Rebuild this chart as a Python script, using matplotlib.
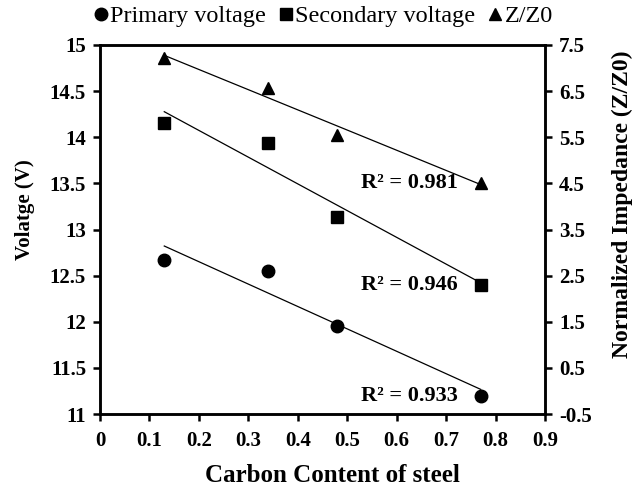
import numpy as np
import matplotlib

matplotlib.use("Agg")

import matplotlib.pyplot as plt
from matplotlib.lines import Line2D

plt.rcParams["font.family"] = ["Liberation Serif", "DejaVu Serif"]

carbon = [0.13, 0.34, 0.48, 0.77]
primary_voltage = [12.67, 12.55, 11.95, 11.2]
secondary_voltage = [14.15, 13.94, 13.14, 12.4]
impedance_ratio = [7.22, 6.57, 5.55, 4.51]

r2_labels = ["R² = 0.981", "R² = 0.946", "R² = 0.933"]
r2_label_y = [13.50, 12.40, 11.20]

fig = plt.figure(figsize=(6.44, 4.91), dpi=100)
ax = fig.add_axes([100 / 644, 1 - 414 / 491, 445 / 644, 369 / 491])
ax2 = ax.twinx()

ms = 9


def trend(axis, x, y):
    k, b = np.polyfit(x, y, 1)
    xs = np.array([min(x), max(x)])
    axis.plot(xs, k * xs + b, color="black", lw=0.9, zorder=2)


ax.plot(carbon, primary_voltage, "o", color="black", ms=ms, zorder=3)
ax.plot(carbon, secondary_voltage, "s", color="black", ms=ms, zorder=3)
trend(ax, carbon, primary_voltage)
trend(ax, carbon, secondary_voltage)

ax2.plot(carbon, impedance_ratio, "^", color="black", ms=ms, zorder=3)
trend(ax2, carbon, impedance_ratio)

xt = np.arange(0, 0.91, 0.1).round(1)
yt = np.arange(11, 15.01, 0.5)
yt2 = np.arange(-0.5, 7.51, 1)
ax.set_xlim(0, 0.9)
ax.set_ylim(11, 15)
ax2.set_ylim(-0.5, 7.5)
ax.set_xticks(xt)
ax.set_xticklabels([f"{v:g}" for v in xt])
ax.set_yticks(yt)
ax.set_yticklabels([f"{v:g}" for v in yt])
ax2.set_yticks(yt2)
ax2.set_yticklabels([f"{v:g}" for v in yt2])

for a in (ax, ax2):
    for s in a.spines.values():
        s.set_linewidth(1.8)
    a.tick_params(width=1.8, length=5, labelsize=15, pad=5)
    for lab in a.get_xticklabels() + a.get_yticklabels():
        lab.set_fontweight("bold")
ax.tick_params(axis="x", pad=7)

ax.set_xlabel("Carbon Content of steel", fontsize=18, fontweight="bold")
ax.set_ylabel("Volatge (V)", fontsize=15, fontweight="bold")
ax2.set_ylabel("Normalized Impedance (Z/Z0)", fontsize=17, fontweight="bold")
ax.xaxis.set_label_coords((332 - 100) / 445, (414 - 476) / 369)
ax.xaxis.label.set_va("center")
ax.yaxis.set_label_coords((25 - 100) / 445, (414 - 210) / 369)
ax.yaxis.label.set_va("center")
ax2.yaxis.set_label_coords((622 - 100) / 445, (414 - 204) / 369)
ax2.yaxis.label.set_va("center")

for lab, y in zip(r2_labels, r2_label_y):
    ax.text(0.723, y, lab, ha="right", va="center", fontsize=16, fontweight="bold")

handles = [
    Line2D([], [], marker="o", color="black", ls="none", ms=ms),
    Line2D([], [], marker="s", color="black", ls="none", ms=ms),
    Line2D([], [], marker="^", color="black", ls="none", ms=ms),
]
fig.legend(handles, ["Primary voltage", "Secondary voltage", "Z/Z0"],
           loc="center", bbox_to_anchor=(322 / 644, 1 - 16 / 491), ncol=3,
           frameon=False, fontsize=17.5, handletextpad=0.0, columnspacing=0.4,
           handlelength=0.8, borderaxespad=0)

fig.savefig("out.png", dpi=100)
